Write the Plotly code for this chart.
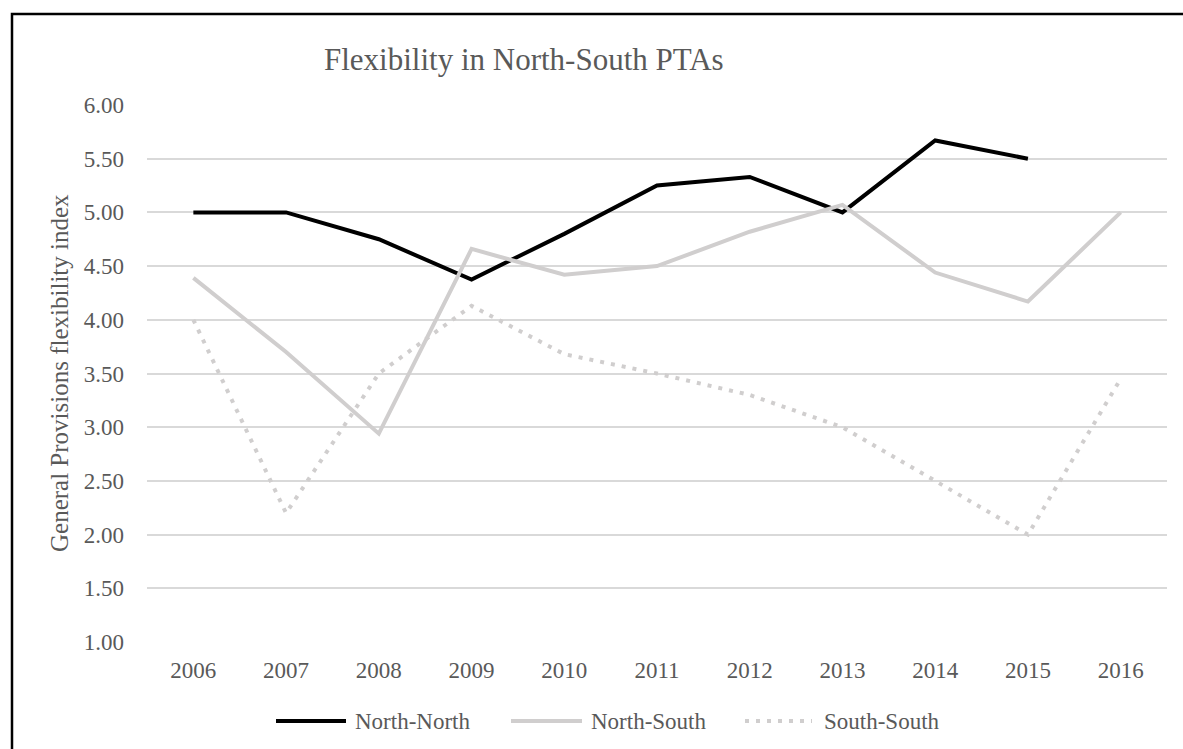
import plotly.graph_objects as go

# Years on the category axis
years = ["2006", "2007", "2008", "2009", "2010", "2011",
         "2012", "2013", "2014", "2015", "2016"]

# General Provisions flexibility index by agreement type
north_north = [5.00, 5.00, 4.75, 4.375, 4.80, 5.25, 5.33, 5.00, 5.67, 5.50, None]
north_south = [4.39, 3.70, 2.94, 4.66, 4.42, 4.50, 4.82, 5.07, 4.44, 4.17, 5.00]
south_south = [4.00, 2.20, 3.50, 4.13, 3.68, 3.50, 3.30, 3.00, 2.50, 2.00, 3.45]

y_ticks = [1.0, 1.5, 2.0, 2.5, 3.0, 3.5, 4.0, 4.5, 5.0, 5.5, 6.0]

W, H = 1183, 749
L, R, T, B = 147, 16, 105, 107
PW, PH = W - L - R, H - T - B

FONT = "Liberation Serif, Times New Roman, serif"
TXT = "#595959"
GRID = "#d9d9d9"
LIGHT = "#d0cece"
DOTS = "4px,7px"


def px_x(px):
    return (px - L) / PW


def px_y(py):
    return (H - B - py) / PH


series = [
    ("North-North", north_north, dict(color="#000000", width=4)),
    ("North-South", north_south, dict(color=LIGHT, width=4)),
    ("South-South", south_south, dict(color=LIGHT, width=4, dash=DOTS)),
]

fig = go.Figure()
for name, values, style in series:
    fig.add_trace(go.Scatter(x=years, y=values, name=name, mode="lines",
                             line=style, showlegend=False))

fig.update_layout(
    width=W, height=H,
    margin=dict(l=L, r=R, t=T, b=B, autoexpand=False),
    paper_bgcolor="white", plot_bgcolor="white",
    font=dict(family=FONT, size=23, color=TXT),
    xaxis=dict(type="category", range=[-0.5, 10.5], showgrid=False, showline=False,
               zeroline=False, ticks="", ticklabelstandoff=12,
               tickfont=dict(family=FONT, size=23, color=TXT)),
    yaxis=dict(range=[1, 6], tickvals=y_ticks, tickformat=".2f", showgrid=True,
               gridcolor=GRID, gridwidth=1.5, showline=False, zeroline=False,
               ticks="", ticklabelstandoff=22,
               tickfont=dict(family=FONT, size=23, color=TXT)),
)

# Legend row below the axis: long line samples followed by the series names
legend_y = px_y(721)
legend_items = [(276, 346, 353), (511, 582, 589), (745, 812, 822)]
for (name, _, style), (x0, x1, xt) in zip(series, legend_items):
    fig.add_shape(type="line", xref="paper", yref="paper",
                  x0=px_x(x0), x1=px_x(x1), y0=legend_y, y1=legend_y, line=style)
    fig.add_annotation(text=name, xref="paper", yref="paper", x=px_x(xt), y=legend_y,
                       xanchor="left", yanchor="middle", showarrow=False,
                       font=dict(family=FONT, size=23, color=TXT))

# Chart title
fig.add_annotation(text="Flexibility in North-South PTAs", xref="paper", yref="paper",
                   x=px_x(322), y=px_y(60), xanchor="left", yanchor="middle",
                   showarrow=False, font=dict(family=FONT, size=31, color=TXT))

# Vertical axis title
fig.add_annotation(text="General Provisions flexibility index", xref="paper", yref="paper",
                   x=px_x(59), y=px_y(373), xanchor="center", yanchor="middle",
                   textangle=-90, showarrow=False,
                   font=dict(family=FONT, size=25, color=TXT))

# Outer chart frame (right and bottom edges fall outside the page)
fig.add_shape(type="rect", xref="paper", yref="paper",
              x0=px_x(12), x1=px_x(1195), y0=px_y(760), y1=px_y(14),
              line=dict(color="#000000", width=2.5), fillcolor="rgba(0,0,0,0)", layer="above")

fig.write_html("out.html")
